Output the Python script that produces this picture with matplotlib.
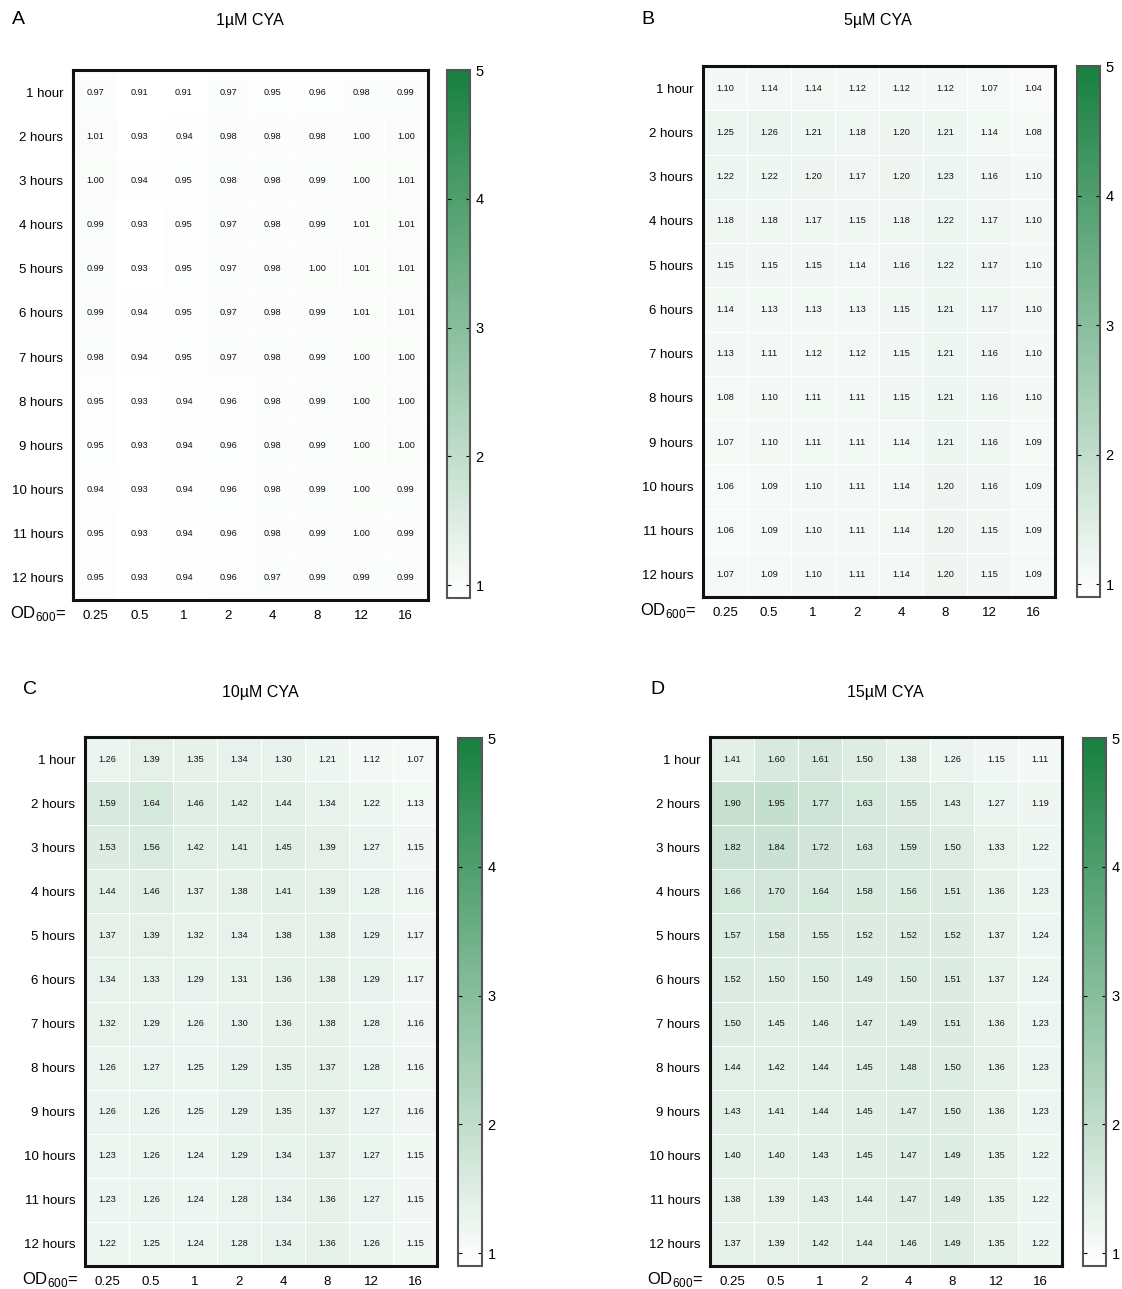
import numpy as np
import matplotlib
matplotlib.use('Agg')
import matplotlib.pyplot as plt
from matplotlib.colors import LinearSegmentedColormap, Normalize

plt.rcParams['font.family'] = ['Liberation Sans', 'DejaVu Sans']
plt.rcParams['mathtext.fontset'] = 'custom'
plt.rcParams['mathtext.rm'] = 'Liberation Sans'

# row / column labels
hours = ['1 hour'] + ['%d hours' % h for h in range(2, 13)]
od_labels = ['0.25', '0.5', '1', '2', '4', '8', '12', '16']

# fold change values, one row per hour, one column per OD600
cya_1 = [
    [0.97, 0.91, 0.91, 0.97, 0.95, 0.96, 0.98, 0.99],
    [1.01, 0.93, 0.94, 0.98, 0.98, 0.98, 1.00, 1.00],
    [1.00, 0.94, 0.95, 0.98, 0.98, 0.99, 1.00, 1.01],
    [0.99, 0.93, 0.95, 0.97, 0.98, 0.99, 1.01, 1.01],
    [0.99, 0.93, 0.95, 0.97, 0.98, 1.00, 1.01, 1.01],
    [0.99, 0.94, 0.95, 0.97, 0.98, 0.99, 1.01, 1.01],
    [0.98, 0.94, 0.95, 0.97, 0.98, 0.99, 1.00, 1.00],
    [0.95, 0.93, 0.94, 0.96, 0.98, 0.99, 1.00, 1.00],
    [0.95, 0.93, 0.94, 0.96, 0.98, 0.99, 1.00, 1.00],
    [0.94, 0.93, 0.94, 0.96, 0.98, 0.99, 1.00, 0.99],
    [0.95, 0.93, 0.94, 0.96, 0.98, 0.99, 1.00, 0.99],
    [0.95, 0.93, 0.94, 0.96, 0.97, 0.99, 0.99, 0.99],
]
cya_5 = [
    [1.10, 1.14, 1.14, 1.12, 1.12, 1.12, 1.07, 1.04],
    [1.25, 1.26, 1.21, 1.18, 1.20, 1.21, 1.14, 1.08],
    [1.22, 1.22, 1.20, 1.17, 1.20, 1.23, 1.16, 1.10],
    [1.18, 1.18, 1.17, 1.15, 1.18, 1.22, 1.17, 1.10],
    [1.15, 1.15, 1.15, 1.14, 1.16, 1.22, 1.17, 1.10],
    [1.14, 1.13, 1.13, 1.13, 1.15, 1.21, 1.17, 1.10],
    [1.13, 1.11, 1.12, 1.12, 1.15, 1.21, 1.16, 1.10],
    [1.08, 1.10, 1.11, 1.11, 1.15, 1.21, 1.16, 1.10],
    [1.07, 1.10, 1.11, 1.11, 1.14, 1.21, 1.16, 1.09],
    [1.06, 1.09, 1.10, 1.11, 1.14, 1.20, 1.16, 1.09],
    [1.06, 1.09, 1.10, 1.11, 1.14, 1.20, 1.15, 1.09],
    [1.07, 1.09, 1.10, 1.11, 1.14, 1.20, 1.15, 1.09],
]
cya_10 = [
    [1.26, 1.39, 1.35, 1.34, 1.30, 1.21, 1.12, 1.07],
    [1.59, 1.64, 1.46, 1.42, 1.44, 1.34, 1.22, 1.13],
    [1.53, 1.56, 1.42, 1.41, 1.45, 1.39, 1.27, 1.15],
    [1.44, 1.46, 1.37, 1.38, 1.41, 1.39, 1.28, 1.16],
    [1.37, 1.39, 1.32, 1.34, 1.38, 1.38, 1.29, 1.17],
    [1.34, 1.33, 1.29, 1.31, 1.36, 1.38, 1.29, 1.17],
    [1.32, 1.29, 1.26, 1.30, 1.36, 1.38, 1.28, 1.16],
    [1.26, 1.27, 1.25, 1.29, 1.35, 1.37, 1.28, 1.16],
    [1.26, 1.26, 1.25, 1.29, 1.35, 1.37, 1.27, 1.16],
    [1.23, 1.26, 1.24, 1.29, 1.34, 1.37, 1.27, 1.15],
    [1.23, 1.26, 1.24, 1.28, 1.34, 1.36, 1.27, 1.15],
    [1.22, 1.25, 1.24, 1.28, 1.34, 1.36, 1.26, 1.15],
]
cya_15 = [
    [1.41, 1.60, 1.61, 1.50, 1.38, 1.26, 1.15, 1.11],
    [1.90, 1.95, 1.77, 1.63, 1.55, 1.43, 1.27, 1.19],
    [1.82, 1.84, 1.72, 1.63, 1.59, 1.50, 1.33, 1.22],
    [1.66, 1.70, 1.64, 1.58, 1.56, 1.51, 1.36, 1.23],
    [1.57, 1.58, 1.55, 1.52, 1.52, 1.52, 1.37, 1.24],
    [1.52, 1.50, 1.50, 1.49, 1.50, 1.51, 1.37, 1.24],
    [1.50, 1.45, 1.46, 1.47, 1.49, 1.51, 1.36, 1.23],
    [1.44, 1.42, 1.44, 1.45, 1.48, 1.50, 1.36, 1.23],
    [1.43, 1.41, 1.44, 1.45, 1.47, 1.50, 1.36, 1.23],
    [1.40, 1.40, 1.43, 1.45, 1.47, 1.49, 1.35, 1.22],
    [1.38, 1.39, 1.43, 1.44, 1.47, 1.49, 1.35, 1.22],
    [1.37, 1.39, 1.42, 1.44, 1.46, 1.49, 1.35, 1.22],
]

titles = ['1µM CYA', '5µM CYA', '10µM CYA', '15µM CYA']
letters = ['A', 'B', 'C', 'D']

cmap = LinearSegmentedColormap.from_list('wg', ['#ffffff', '#17803f'])
norm = Normalize(vmin=0.9, vmax=5)

W, H = 1122, 1289
fig = plt.figure(figsize=(W / 100, H / 100), dpi=100)


def px(x0, y0, x1, y1):
    # pixel box -> figure fraction rect
    return [x0 / W, 1 - y1 / H, (x1 - x0) / W, (y1 - y0) / H]


# heatmap box, colorbar box, title pos, letter pos (all pixels)
layout = [
    ((73, 70, 428, 600), (447, 70, 470, 598), (250, 21), (18, 19)),
    ((703, 66, 1055, 597), (1077, 66, 1100, 597), (878, 21), (648, 19)),
    ((85, 737, 437, 1266), (458, 738, 482, 1266), (260, 692), (30, 689)),
    ((710, 737, 1062, 1266), (1083, 738, 1106, 1266), (885, 692), (657, 689)),
]

for data, title, letter, (hb, cb, tp, lp) in zip(
        [cya_1, cya_5, cya_10, cya_15], titles, letters, layout):
    vals = np.array(data)
    ax = fig.add_axes(px(*hb))
    mesh = ax.pcolormesh(vals, cmap=cmap, norm=norm, edgecolors='white', linewidth=0.7)
    ax.set_xlim(0, 8)
    ax.set_ylim(12, 0)
    for i in range(vals.shape[0]):
        for j in range(vals.shape[1]):
            ax.text(j + 0.5, i + 0.5, '%.2f' % vals[i, j], ha='center', va='center',
                    fontsize=6.6, color='#111111')
    ax.set_xticks(np.arange(8) + 0.5)
    ax.set_xticklabels(od_labels, fontsize=9.5)
    ax.set_yticks(np.arange(12) + 0.5)
    ax.set_yticklabels(hours, fontsize=9.5)
    ax.tick_params(length=0, pad=7)
    for s in ax.spines.values():
        s.set_linewidth(2.2)
        s.set_color('#111111')
    ax.text(-0.02, -0.026, r'OD$_{\mathregular{600}}$=', transform=ax.transAxes,
            ha='right', va='center', fontsize=12)

    cax = fig.add_axes(px(*cb))
    cbar = fig.colorbar(mesh, cax=cax, ticks=[1, 2, 3, 4, 5])
    cbar.outline.set_edgecolor('#555555')
    cbar.outline.set_linewidth(1.5)
    cax.tick_params(direction='in', length=3, width=0.8, left=True, right=True,
                    labelsize=10.5, pad=4)

    fig.text(tp[0] / W, 1 - tp[1] / H, title, ha='center', va='center', fontsize=11.5)
    fig.text(lp[0] / W, 1 - lp[1] / H, letter, ha='center', va='center', fontsize=14)

fig.savefig('out.png', dpi=100)
